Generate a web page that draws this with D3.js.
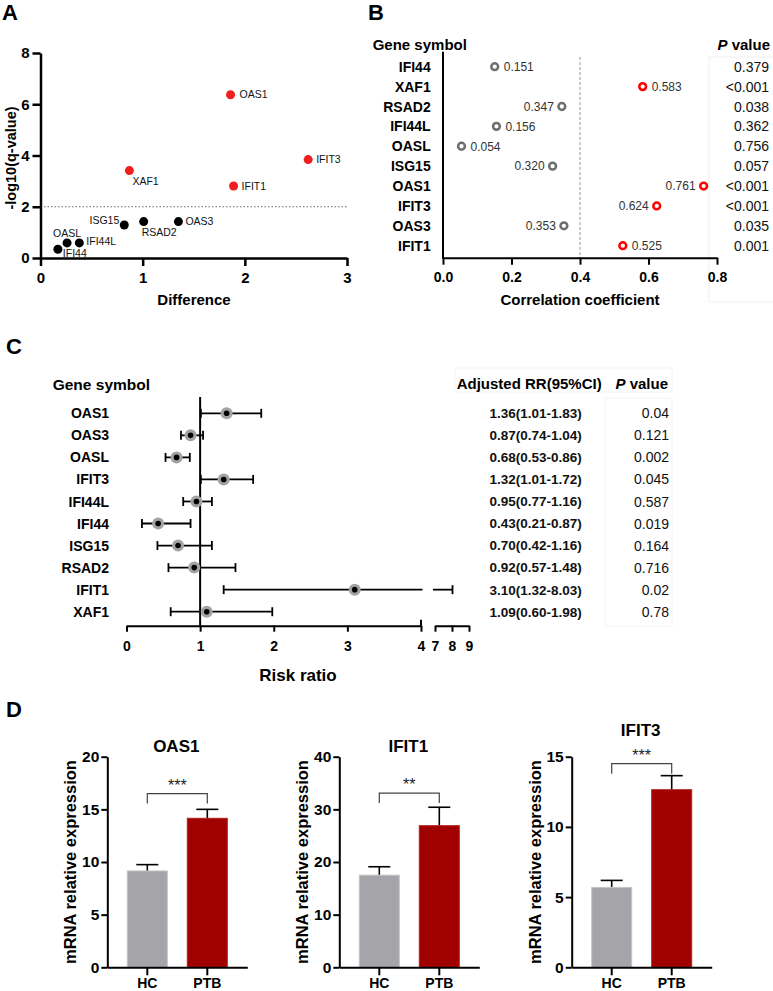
<!DOCTYPE html>
<html><head><meta charset="utf-8">
<script src="https://cdn.jsdelivr.net/npm/d3@7"></script>
<style>
html,body{margin:0;padding:0;background:#fff;}
svg{display:block;}
</style></head><body>
<svg id="fig" width="773" height="991"></svg>
<script>
// ---------- Panel A data ----------
const genesA = ["OAS1","IFIT3","XAF1","IFIT1","ISG15","RSAD2","OAS3","OASL","IFI44L","IFI44"];
const diffA = [1.86, 2.62, 0.87, 1.89, 0.82, 1.01, 1.35, 0.26, 0.38, 0.17];
const negLogQA = [6.37, 3.84, 3.41, 2.81, 1.29, 1.42, 1.42, 0.59, 0.59, 0.34];
const thresholdA = 2;
const xTicksA = [0,1,2,3];
const yTicksA = [0,2,4,6,8];

// ---------- Panel B data ----------
const genesB = ["IFI44","XAF1","RSAD2","IFI44L","OASL","ISG15","OAS1","IFIT3","OAS3","IFIT1"];
const corrB = [0.151,0.583,0.347,0.156,0.054,0.320,0.761,0.624,0.353,0.525];
const pB = ["0.379","<0.001","0.038","0.362","0.756","0.057","<0.001","<0.001","0.035","0.001"];
const xTicksB = [0,0.2,0.4,0.6,0.8];
const refLineB = 0.4;

// ---------- Panel C data ----------
const genesC = ["OAS1","OAS3","OASL","IFIT3","IFI44L","IFI44","ISG15","RSAD2","IFIT1","XAF1"];
const rrC = [1.36,0.87,0.68,1.32,0.95,0.43,0.70,0.92,3.10,1.09];
const loC = [1.01,0.74,0.53,1.01,0.77,0.21,0.42,0.57,1.32,0.60];
const hiC = [1.83,1.04,0.86,1.72,1.16,0.87,1.16,1.48,8.03,1.98];
const pC = ["0.04","0.121","0.002","0.045","0.587","0.019","0.164","0.716","0.02","0.78"];
const ticksC1 = [0,1,2,3,4];
const ticksC2 = [7,8,9];

// ---------- Panel D data ----------
const genesD = ["OAS1","IFIT1","IFIT3"];
const groupsD = ["HC","PTB"];
const hcMean = [9.15, 17.5, 5.69];
const hcErr = [0.6, 1.6, 0.5];
const ptbMean = [14.15, 26.9, 12.65];
const ptbErr = [0.85, 3.5, 1.0];
const yMaxD = [20, 40, 15];
const yStepD = [5, 10, 5];
const sigD = ["***","**","***"];
const bracketD = [16.5, 33.1, 14.5];

// ---------- helpers ----------
const FONT = "'Liberation Sans', Arial, Helvetica, sans-serif";
const svg = d3.select("#fig").attr("font-family", FONT);
function styleAxis(g, sw, fs){
  g.attr("font-family", FONT);
  g.select(".domain").attr("stroke","#000").attr("stroke-width",sw);
  g.selectAll(".tick line").attr("stroke","#000").attr("stroke-width",sw);
  g.selectAll(".tick text").attr("font-size",fs).attr("font-weight","bold").attr("fill","#000");
}
function txt(x,y,s,opt={}){
  const t = svg.append("text").attr("x",x).attr("y",y).text(s)
    .attr("font-size",opt.size||14).attr("font-weight",opt.weight||"bold")
    .attr("text-anchor",opt.anchor||"start").attr("fill",opt.fill||"#000");
  if(opt.rotate) t.attr("transform",`rotate(${opt.rotate},${x},${y})`);
  return t;
}

// panel letters
txt(2,20,"A",{size:22});
txt(368,20,"B",{size:22});
txt(6,354,"C",{size:22});
txt(6,717,"D",{size:22});

// ================= Panel A =================
{
  const x = d3.scaleLinear().domain([0,3]).range([40.5,347]);
  const y = d3.scaleLinear().domain([0,8]).range([258,53]);
  const g = svg.append("g");
  g.append("line").attr("x1",x(0)).attr("x2",x(3)).attr("y1",y(thresholdA)).attr("y2",y(thresholdA))
    .attr("stroke","#666").attr("stroke-width",1).attr("stroke-dasharray","1.5,2");
  const gx = g.append("g").attr("transform",`translate(0,${y(0)})`)
    .call(d3.axisBottom(x).tickValues(xTicksA).tickFormat(d3.format("d")).tickSize(8).tickSizeOuter(0).tickPadding(6));
  styleAxis(gx,2.5,15);
  const gy = g.append("g").attr("transform",`translate(${x(0)},0)`)
    .call(d3.axisLeft(y).tickValues(yTicksA).tickFormat(d3.format("d")).tickSize(8).tickSizeOuter(0).tickPadding(3));
  styleAxis(gy,2.5,15);
  const labelPosA = {OAS1:[9,0,"start"],IFIT3:[8,0,"start"],XAF1:[3,11,"start"],IFIT1:[8,0,"start"],
    ISG15:[-5,-5,"end"],RSAD2:[-2,11,"start"],OAS3:[7,0,"start"],OASL:[0,-10,"middle"],
    IFI44L:[7,-2,"start"],IFI44:[5,4,"start"]};
  genesA.forEach((gname,i)=>{
    const cx = x(diffA[i]), cy = y(negLogQA[i]);
    g.append("circle").attr("cx",cx).attr("cy",cy).attr("r",4.5)
      .attr("fill", negLogQA[i] > thresholdA ? "#f01e1e" : "#000");
    const p = labelPosA[gname];
    g.append("text").attr("x",cx+p[0]).attr("y",cy+p[1]).attr("dy","0.35em")
      .attr("text-anchor",p[2]).attr("font-size",10.5).attr("fill","#111").text(gname);
  });
  txt(194,305,"Difference",{size:15,anchor:"middle"});
  txt(16,158,"-log10(q-value)",{size:14.5,anchor:"middle",rotate:-90});
}

// ================= Panel B =================
{
  const x = d3.scaleLinear().domain([0,0.8]).range([443,717]);
  const y = d3.scalePoint().domain(genesB).range([66.7,245.7]);
  const g = svg.append("g");
  g.append("rect").attr("x",709).attr("y",57).attr("width",70).attr("height",245)
    .attr("fill","none").attr("stroke","#f0f0f0").attr("stroke-width",1);
  g.append("line").attr("x1",x(refLineB)).attr("x2",x(refLineB)).attr("y1",57).attr("y2",257.7)
    .attr("stroke","#999").attr("stroke-width",1).attr("stroke-dasharray","3,2");
  const gx = g.append("g").attr("transform","translate(0,257.7)")
    .call(d3.axisBottom(x).tickValues(xTicksB).tickFormat(d3.format(".1f")).tickSize(7).tickSizeOuter(0).tickPadding(7));
  styleAxis(gx,2,14);
  g.append("line").attr("x1",443).attr("x2",443).attr("y1",51.7).attr("y2",258.7)
    .attr("stroke","#000").attr("stroke-width",2);
  const rightSide = new Set(["IFI44","XAF1","IFI44L","OASL","IFIT1"]);
  const isSig = p => p.startsWith("<") || parseFloat(p) < 0.01;
  genesB.forEach((gname,i)=>{
    const cy = y(gname), cx = x(corrB[i]);
    g.append("text").attr("x",430.7).attr("y",cy).attr("dy","0.36em").attr("text-anchor","end")
      .attr("font-size",14).attr("font-weight","bold").text(gname);
    g.append("circle").attr("cx",cx).attr("cy",cy).attr("r",3.4).attr("fill","#fff")
      .attr("stroke", isSig(pB[i]) ? "#ff0000" : "#6e6e6e").attr("stroke-width",2.5);
    const right = rightSide.has(gname);
    g.append("text").attr("x", right ? cx+9 : cx-8).attr("y",cy).attr("dy","0.36em")
      .attr("text-anchor", right ? "start" : "end").attr("font-size",12).attr("fill","#333")
      .text(d3.format(".3f")(corrB[i]));
    g.append("text").attr("x",769).attr("y",cy).attr("dy","0.36em").attr("text-anchor","end")
      .attr("font-size",14).attr("fill","#111").text(pB[i]);
  });
  txt(372.7,50,"Gene symbol",{size:15});
  const ph = svg.append("text").attr("x",770).attr("y",50).attr("text-anchor","end")
    .attr("font-size",15).attr("font-weight","bold");
  ph.append("tspan").attr("font-style","italic").text("P");
  ph.append("tspan").text(" value");
  txt(580,305,"Correlation coefficient",{size:15,anchor:"middle"});
}

// ================= Panel C =================
{
  const x1 = d3.scaleLinear().domain([0,4]).range([126.5,421]);
  const x2 = d3.scaleLinear().domain([7,9]).range([435,469]);
  const rx = v => v <= 4 ? x1(v) : x2(v);
  const y = d3.scalePoint().domain(genesC).range([413.3,611.7]);
  const axisY = 625.7;
  const g = svg.append("g");
  g.append("rect").attr("x",455).attr("y",368).attr("width",217).attr("height",24)
    .attr("fill","none").attr("stroke","#f4f4f4");
  g.append("rect").attr("x",605).attr("y",398).attr("width",67).attr("height",228)
    .attr("fill","none").attr("stroke","#f4f4f4");

  const ga = g.append("g").attr("transform",`translate(0,${axisY})`)
    .call(d3.axisBottom(x1).tickValues(ticksC1).tickFormat(d3.format("d")).tickSize(6).tickSizeOuter(0).tickPadding(9));
  styleAxis(ga,2,14);
  const gb = g.append("g").attr("transform",`translate(0,${axisY})`)
    .call(d3.axisBottom(x2).tickValues(ticksC2).tickFormat(d3.format("d")).tickSize(6).tickSizeOuter(0).tickPadding(9));
  styleAxis(gb,2,14);
  g.append("line").attr("x1",x1(4)).attr("x2",x1(4)).attr("y1",axisY-6).attr("y2",axisY)
    .attr("stroke","#000").attr("stroke-width",2);
  g.append("line").attr("x1",x1(1)).attr("x2",x1(1)).attr("y1",397).attr("y2",axisY)
    .attr("stroke","#000").attr("stroke-width",2);

  const cap = 4.5, sw = 1.8;
  genesC.forEach((gname,i)=>{
    const cy = y(gname);
    g.append("text").attr("x",109).attr("y",cy).attr("dy","0.36em").attr("text-anchor","end")
      .attr("font-size",14).attr("font-weight","bold").text(gname);
    const lo = rx(loC[i]), hi = rx(hiC[i]);
    if(hiC[i] > 4){
      g.append("line").attr("x1",lo).attr("x2",x1(4)+1.5).attr("y1",cy).attr("y2",cy).attr("stroke","#000").attr("stroke-width",sw);
      g.append("line").attr("x1",x2(7)-2).attr("x2",hi).attr("y1",cy).attr("y2",cy).attr("stroke","#000").attr("stroke-width",sw);
    } else {
      g.append("line").attr("x1",lo).attr("x2",hi).attr("y1",cy).attr("y2",cy).attr("stroke","#000").attr("stroke-width",sw);
    }
    [lo,hi].forEach(xx=>g.append("line").attr("x1",xx).attr("x2",xx).attr("y1",cy-cap).attr("y2",cy+cap)
      .attr("stroke","#000").attr("stroke-width",sw));
    g.append("circle").attr("cx",rx(rrC[i])).attr("cy",cy).attr("r",6).attr("fill","#a3a3a3");
    g.append("circle").attr("cx",rx(rrC[i])).attr("cy",cy).attr("r",2.8).attr("fill","#000");
    const f = d3.format(".2f");
    g.append("text").attr("x",581.7).attr("y",cy).attr("dy","0.36em").attr("text-anchor","end")
      .attr("font-size",13.5).attr("font-weight","bold").attr("fill","#111")
      .text(`${f(rrC[i])}(${f(loC[i])}-${f(hiC[i])})`);
    g.append("text").attr("x",669).attr("y",cy).attr("dy","0.36em").attr("text-anchor","end")
      .attr("font-size",14).attr("fill","#111").text(pC[i]);
  });
  txt(52.7,390,"Gene symbol",{size:15.5});
  txt(456.7,388.5,"Adjusted RR(95%CI)",{size:15});
  const ph = svg.append("text").attr("x",668).attr("y",388.5).attr("text-anchor","end")
    .attr("font-size",15).attr("font-weight","bold");
  ph.append("tspan").attr("font-style","italic").text("P");
  ph.append("tspan").text(" value");
  txt(298,681,"Risk ratio",{size:17,anchor:"middle"});
}

// ================= Panel D =================
{
  const axisXs = [107.3, 339.3, 571.7];
  const titleYs = [752, 752, 736];
  const top = 756.7, bottom = 967.3, width = 140;
  genesD.forEach((gene,k)=>{
    const x0 = axisXs[k];
    const g = svg.append("g");
    const x = d3.scaleBand().domain(groupsD).range([x0, x0+width]).padding(0.3334);
    const y = d3.scaleLinear().domain([0,yMaxD[k]]).range([bottom, top]);
    const means = [hcMean[k], ptbMean[k]], errs = [hcErr[k], ptbErr[k]];
    const colors = ["#a5a5a9","#a00000"], strokes = ["#c4c4c8","#b52020"];
    groupsD.forEach((grp,j)=>{
      const cx = x(grp) + x.bandwidth()/2;
      g.append("line").attr("x1",cx).attr("x2",cx).attr("y1",y(means[j])).attr("y2",y(means[j]+errs[j]))
        .attr("stroke","#000").attr("stroke-width",1.6);
      g.append("line").attr("x1",cx-11).attr("x2",cx+11).attr("y1",y(means[j]+errs[j])).attr("y2",y(means[j]+errs[j]))
        .attr("stroke","#000").attr("stroke-width",1.6);
      g.append("rect").attr("x",x(grp)).attr("y",y(means[j])).attr("width",x.bandwidth())
        .attr("height",bottom - y(means[j])).attr("fill",colors[j]).attr("stroke",strokes[j]).attr("stroke-width",1);
    });
    const gy = g.append("g").attr("transform",`translate(${x0},0)`)
      .call(d3.axisLeft(y).tickValues(d3.range(0,yMaxD[k]+0.001,yStepD[k])).tickFormat(d3.format("d"))
        .tickSize(6).tickSizeOuter(0).tickPadding(2));
    styleAxis(gy,2,15.5);
    const gx = g.append("g").attr("transform",`translate(0,${bottom})`)
      .call(d3.axisBottom(x).tickSize(8).tickSizeOuter(0).tickPadding(3));
    styleAxis(gx,2,14);
    const xa = x("HC")+x.bandwidth()/2, xb = x("PTB")+x.bandwidth()/2, by = y(bracketD[k]);
    g.append("path").attr("d",`M${xa},${by+10}V${by}H${xb}V${by+10}`)
      .attr("fill","none").attr("stroke","#444").attr("stroke-width",1.2);
    g.append("text").attr("x",(xa+xb)/2).attr("y",by-3).attr("text-anchor","middle")
      .attr("font-size",16).attr("fill","#222").text(sigD[k]);
    txt(x0+width/2-1, titleYs[k], gene, {size:17, anchor:"middle"});
    txt(x0-31, (top+bottom)/2, "mRNA relative expression", {size:16.5, anchor:"middle", rotate:-90});
  });
}
</script>
</body></html>
